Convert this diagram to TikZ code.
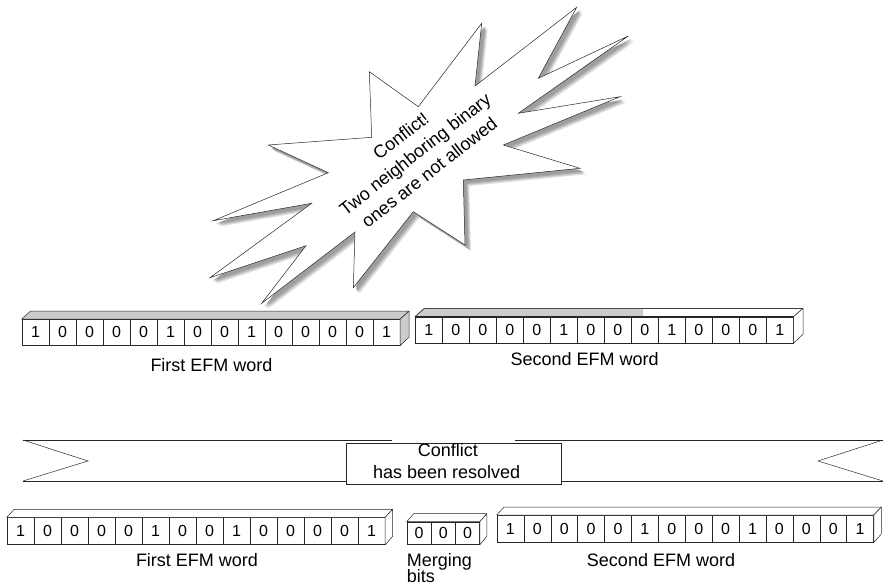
\documentclass[tikz,border=0pt]{standalone}
\usepackage{fontspec}
\setmainfont{Liberation Sans}
\usetikzlibrary{calc}
\newcommand{\digitfont}{\fontsize{16}{19}\selectfont}
\newcommand{\labelfont}{\fontsize{18}{21.6}\selectfont}
\newcommand{\burstpath}{(268.3,145) -- (328.3,172.7) -- (213.3,220.7) -- (311.7,203.3)
  -- (210,277.7) -- (306,245.7) -- (261.7,303.3) -- (355,232)
  -- (353.3,287.7) -- (413.3,211.7) -- (465,245) -- (463.3,180)
  -- (580,168.3) -- (503.3,145) -- (620,96.7) -- (518.3,113.3)
  -- (628.3,36) -- (538.3,78.3) -- (576.7,7.3) -- (475,86)
  -- (481.7,23.3) -- (418.3,106.7) -- (369.3,71.7) -- (371.7,137.3) -- cycle}
\tikzset{
  bit/.style={draw=black!85, line width=0.5pt, minimum width=27pt, minimum height=26pt,
              inner sep=0pt, anchor=north west, font=\digitfont},
  facegray/.style={draw=black!85, line width=0.5pt, fill=black!20, line join=round},
  facewhite/.style={draw=black!85, line width=0.5pt, fill=white, line join=round},
  lbl/.style={font=\labelfont, anchor=base, inner sep=0pt},
  burst/.style={draw=black!85, line width=0.5pt, fill=white, line join=miter},
  burstshadow/.style={fill=black!#1, draw=none},
  bandline/.style={draw=black!85, line width=0.5pt}
}
\begin{document}
\begin{tikzpicture}[x=1pt,y=-1pt]
\useasboundingbox (0,0) rectangle (885,585);

% ---------- starburst with soft shadow ----------
\path[burstshadow=12, shift={(6,6)}] \burstpath;
\path[burstshadow=22, shift={(5,5)}] \burstpath;
\path[burstshadow=32, shift={(4,4)}] \burstpath;
\path[burstshadow=38, shift={(3,3)}] \burstpath;
\path[burst] \burstpath;
\node[rotate=38, align=center, font=\fontsize{18}{23}\selectfont, inner sep=0pt]
  (burstText) at (415,154) {Conflict!\\Two neighboring binary\\ones are not allowed};

% ---------- upper first word ----------
\foreach \b [count=\i] in {1,0,0,0,0,1,0,0,1,0,0,0,0,1}
  \node[bit] (ua\i) at ({21.7+27*(\i-1)},319) {\b};
\path[facegray] (ua1.north west) -- ++(9,-8) -- ($(ua14.north east)+(9,-8)$) -- (ua14.north east) -- cycle;
\path[facegray] (ua14.north east) -- ++(9,-8) -- ++(0,26) -- (ua14.south east) -- cycle;
\node[lbl] (uaLabel) at (211.5,371.7) {First EFM word};

% ---------- upper second word ----------
\foreach \b [count=\i] in {1,0,0,0,0,1,0,0,0,1,0,0,0,1}
  \node[bit] (ub\i) at ({415+27*(\i-1)},316.7) {\b};
\path[facewhite] (ub1.north west) -- ++(9.5,-8.4) -- ($(ub14.north east)+(9.5,-8.4)$) -- (ub14.north east) -- cycle;
\fill[black!20] ($(ub1.north west)+(0.4,-0.3)$) -- ($(ub1.north west)+(9.6,-8.1)$) -- (643,308.6) -- (643,316.4) -- cycle;
\draw[black!85, line width=0.5pt] (ub1.north west) -- ++(9.5,-8.4) -- ($(ub14.north east)+(9.5,-8.4)$);
\draw[black!85, line width=0.5pt] (ub1.north west) -- (ub14.north east);
\path[facewhite] (ub14.north east) -- ++(9.5,-8.4) -- ++(0,26) -- (ub14.south east) -- cycle;
\node[lbl] (ubLabel) at (584.7,365) {Second EFM word};

% ---------- band ----------
\draw[bandline] (23,440) -- (391.5,440);
\draw[bandline] (514.5,440) -- (883,440);
\draw[bandline] (23,481) -- (883,481);
\draw[bandline] (23,440) -- (88,461) -- (23,481);
\draw[bandline] (883,440) -- (818,461) -- (883,481);
\node[draw=black!85, line width=0.5pt, fill=white, minimum width=215.3pt, minimum height=41pt,
      inner sep=0pt, anchor=north west] (resolvedBox) at (345.7,443.3) {};
\node[lbl] (resolvedA) at (447.8,456.7) {Conflict};
\node[lbl] (resolvedB) at (446.7,478.3) {has been resolved};

% ---------- lower first word ----------
\foreach \b [count=\i] in {1,0,0,0,0,1,0,0,1,0,0,0,0,1}
  \node[bit, minimum height=27pt] (la\i) at ({6.7+27*(\i-1)},517.3) {\b};
\path[facewhite] (la1.north west) -- ++(7.5,-8) -- ($(la14.north east)+(7.5,-8)$) -- (la14.north east) -- cycle;
\path[facewhite] (la14.north east) -- ++(7.5,-8) -- ++(0,27) -- (la14.south east) -- cycle;
\node[lbl] (laLabel) at (197,566.7) {First EFM word};

% ---------- merging bits ----------
\foreach \b [count=\i] in {0,0,0}
  \node[bit, minimum width=24.2pt, minimum height=22.6pt] (mb\i) at ({406.7+24.2*(\i-1)},521.7) {\b};
\path[facewhite] (mb1.north west) -- ++(7,-8) -- ($(mb3.north east)+(7,-8)$) -- (mb3.north east) -- cycle;
\path[facewhite] (mb3.north east) -- ++(7,-8) -- ++(0,22.6) -- (mb3.south east) -- cycle;
\node[font=\labelfont, anchor=base west, inner sep=0pt] (mbLabelA) at (406.7,566.7) {Merging};
\node[font=\labelfont, anchor=base west, inner sep=0pt] (mbLabelB) at (406.7,582) {bits};

% ---------- lower second word ----------
\foreach \b [count=\i] in {1,0,0,0,0,1,0,0,0,1,0,0,0,1}
  \node[bit, minimum width=26.9pt, minimum height=27pt] (lb\i) at ({496.7+26.9*(\i-1)},515) {\b};
\path[facewhite] (lb1.north west) -- ++(7.5,-8) -- ($(lb14.north east)+(7.5,-8)$) -- (lb14.north east) -- cycle;
\path[facewhite] (lb14.north east) -- ++(7.5,-8) -- ++(0,27) -- (lb14.south east) -- cycle;
\node[lbl] (lbLabel) at (661,566.7) {Second EFM word};
\end{tikzpicture}
\end{document}
